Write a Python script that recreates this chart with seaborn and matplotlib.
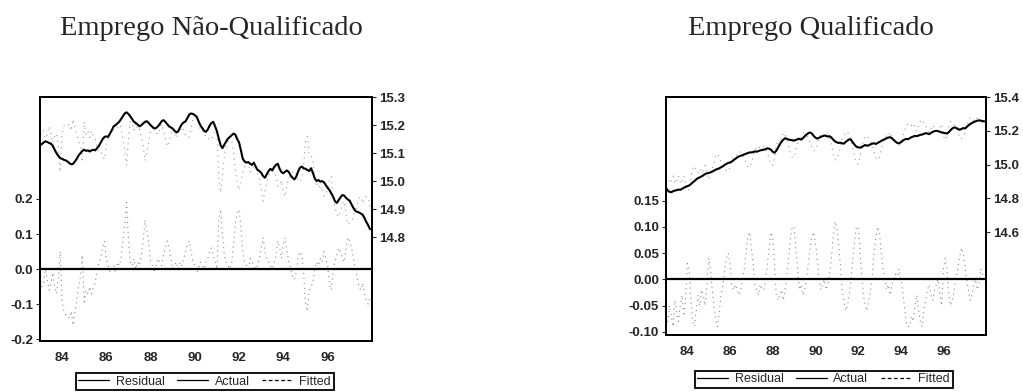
import numpy as np
import pandas as pd
import matplotlib
matplotlib.use("Agg")
import matplotlib.pyplot as plt
from matplotlib.lines import Line2D
import seaborn as sns

# monthly sample 1983:01 - 1997:12
years = list(range(1983, 1998))

# Emprego Nao-Qualificado (log level, right scale) and residual (left scale)
actual_nq = [
    15.128, 15.132, 15.138, 15.142, 15.140, 15.136, 15.134, 15.126, 15.112, 15.100, 15.090, 15.082,
    15.080, 15.076, 15.074, 15.070, 15.064, 15.060, 15.062, 15.070, 15.080, 15.092, 15.100, 15.108,
    15.112, 15.108, 15.110, 15.106, 15.110, 15.112, 15.110, 15.118, 15.126, 15.138, 15.150, 15.158,
    15.160, 15.158, 15.170, 15.182, 15.196, 15.200, 15.206, 15.212, 15.222, 15.232, 15.242, 15.246,
    15.240, 15.232, 15.222, 15.212, 15.208, 15.202, 15.196, 15.200, 15.206, 15.212, 15.214, 15.208,
    15.200, 15.194, 15.188, 15.190, 15.196, 15.204, 15.214, 15.218, 15.212, 15.204, 15.196, 15.192,
    15.188, 15.180, 15.174, 15.178, 15.192, 15.204, 15.210, 15.214, 15.226, 15.238, 15.242, 15.240,
    15.236, 15.230, 15.214, 15.200, 15.190, 15.180, 15.176, 15.184, 15.198, 15.208, 15.212, 15.196,
    15.178, 15.152, 15.128, 15.118, 15.130, 15.142, 15.152, 15.158, 15.164, 15.170, 15.166, 15.150,
    15.138, 15.110, 15.080, 15.070, 15.066, 15.068, 15.062, 15.058, 15.066, 15.052, 15.040, 15.036,
    15.030, 15.018, 15.012, 15.024, 15.036, 15.044, 15.038, 15.050, 15.058, 15.062, 15.044, 15.032,
    15.028, 15.034, 15.038, 15.032, 15.020, 15.012, 15.006, 15.016, 15.034, 15.048, 15.052, 15.046,
    15.044, 15.040, 15.036, 15.046, 15.030, 15.010, 15.000, 15.004, 14.998, 15.000, 14.996, 14.986,
    14.976, 14.968, 14.956, 14.944, 14.928, 14.922, 14.932, 14.942, 14.950, 14.948, 14.940, 14.934,
    14.930, 14.916, 14.904, 14.894, 14.890, 14.888, 14.884, 14.880, 14.868, 14.854, 14.842, 14.828,
]
resid_nq = [
    -0.02, -0.05, -0.04, 0.00, -0.03, -0.06, -0.04, -0.01, -0.05, -0.07, -0.03, 0.05,
    -0.09, -0.12, -0.13, -0.13, -0.14, -0.12, -0.16, -0.12, -0.09, -0.05, -0.02, 0.04,
    -0.10, -0.06, -0.07, -0.05, -0.07, -0.05, -0.04, 0.00, 0.02, 0.03, 0.06, 0.08,
    0.03, 0.01, -0.01, 0.00, 0.01, -0.01, 0.02, 0.01, 0.03, 0.08, 0.13, 0.19,
    0.09, 0.02, 0.01, 0.03, 0.00, 0.02, 0.01, 0.04, 0.08, 0.14, 0.11, 0.07,
    0.02, 0.01, -0.01, 0.01, 0.03, 0.02, 0.01, 0.04, 0.06, 0.08, 0.06, 0.03,
    0.00, 0.01, 0.02, 0.00, 0.02, 0.01, 0.03, 0.05, 0.07, 0.08, 0.05, 0.02,
    0.01, -0.01, 0.00, 0.02, 0.01, 0.00, 0.02, 0.03, 0.05, 0.06, 0.04, 0.02,
    0.00, 0.14, 0.17, 0.10, 0.04, 0.02, 0.01, 0.00, 0.02, 0.07, 0.13, 0.16,
    0.17, 0.12, 0.05, 0.02, 0.01, 0.00, 0.03, 0.02, 0.01, 0.00, 0.01, 0.03,
    0.06, 0.09, 0.05, 0.03, 0.02, 0.01, 0.00, 0.02, 0.04, 0.08, 0.06, 0.03,
    0.07, 0.09, 0.05, 0.02, 0.00, -0.02, -0.03, -0.01, 0.03, 0.05, 0.04, -0.01,
    -0.10, -0.12, -0.06, -0.05, -0.04, 0.00, 0.02, 0.01, 0.03, 0.02, 0.05, 0.03,
    0.01, -0.04, -0.06, 0.00, 0.02, 0.04, 0.06, 0.05, 0.03, 0.02, 0.06, 0.09,
    0.08, 0.06, 0.03, 0.00, -0.02, -0.05, -0.06, -0.04, -0.07, -0.09, -0.10, -0.08,
]

# Emprego Qualificado
actual_q = [
    14.862, 14.846, 14.838, 14.836, 14.842, 14.846, 14.848, 14.852, 14.850, 14.856, 14.862, 14.868,
    14.872, 14.876, 14.884, 14.894, 14.902, 14.912, 14.920, 14.924, 14.930, 14.936, 14.944, 14.948,
    14.950, 14.954, 14.958, 14.964, 14.970, 14.974, 14.978, 14.984, 14.990, 14.998, 15.004, 15.010,
    15.012, 15.018, 15.026, 15.034, 15.042, 15.048, 15.052, 15.056, 15.060, 15.064, 15.068, 15.072,
    15.072, 15.074, 15.078, 15.076, 15.080, 15.084, 15.086, 15.088, 15.092, 15.096, 15.094, 15.088,
    15.076, 15.070, 15.082, 15.100, 15.120, 15.136, 15.148, 15.156, 15.152, 15.148, 15.146, 15.144,
    15.142, 15.146, 15.150, 15.152, 15.148, 15.156, 15.168, 15.178, 15.186, 15.190, 15.184, 15.170,
    15.160, 15.154, 15.158, 15.164, 15.168, 15.172, 15.170, 15.166, 15.168, 15.160, 15.148, 15.138,
    15.132, 15.128, 15.130, 15.126, 15.124, 15.134, 15.142, 15.150, 15.148, 15.132, 15.118, 15.106,
    15.102, 15.100, 15.104, 15.110, 15.116, 15.112, 15.114, 15.120, 15.124, 15.126, 15.122, 15.128,
    15.134, 15.140, 15.146, 15.150, 15.156, 15.160, 15.162, 15.156, 15.146, 15.136, 15.128, 15.126,
    15.132, 15.140, 15.148, 15.152, 15.150, 15.156, 15.162, 15.166, 15.170, 15.168, 15.172, 15.176,
    15.178, 15.182, 15.186, 15.184, 15.180, 15.188, 15.194, 15.198, 15.200, 15.198, 15.194, 15.190,
    15.188, 15.186, 15.184, 15.192, 15.204, 15.214, 15.220, 15.218, 15.212, 15.206, 15.210, 15.216,
    15.214, 15.222, 15.232, 15.240, 15.246, 15.252, 15.256, 15.260, 15.262, 15.260, 15.258, 15.256,
]
resid_q = [
    -0.06, -0.08, -0.05, -0.07, -0.09, -0.04, -0.06, -0.08, -0.05, -0.03, -0.07, -0.04,
    0.03, 0.02, -0.04, -0.08, -0.09, -0.06, -0.03, -0.05, -0.02, -0.03, -0.05, -0.01,
    0.04, 0.02, -0.02, -0.05, -0.08, -0.09, -0.06, -0.03, -0.01, 0.02, 0.04, 0.05,
    0.03, -0.01, -0.02, -0.01, -0.02, -0.03, -0.02, 0.00, 0.02, 0.05, 0.08, 0.09,
    0.06, 0.03, -0.01, -0.02, -0.03, -0.01, -0.02, -0.02, 0.00, 0.03, 0.06, 0.09,
    0.08, 0.03, -0.03, -0.04, -0.03, -0.02, -0.04, -0.02, 0.01, 0.04, 0.08, 0.10,
    0.10, 0.06, 0.02, -0.02, -0.01, -0.03, -0.02, 0.00, 0.03, 0.06, 0.08, 0.09,
    0.07, 0.04, 0.00, -0.02, -0.01, 0.00, -0.02, -0.01, 0.01, 0.04, 0.08, 0.11,
    0.10, 0.07, 0.03, -0.02, -0.04, -0.06, -0.05, -0.03, 0.00, 0.04, 0.07, 0.10,
    0.10, 0.06, 0.01, -0.03, -0.05, -0.06, -0.04, -0.02, 0.01, 0.05, 0.08, 0.10,
    0.09, 0.05, 0.02, 0.00, -0.02, -0.01, -0.03, -0.01, 0.00, 0.01, 0.00, 0.02,
    0.00, -0.02, -0.05, -0.08, -0.09, -0.09, -0.07, -0.08, -0.05, -0.03, -0.06, -0.08,
    -0.09, -0.06, -0.04, -0.02, -0.01, -0.03, -0.04, -0.02, -0.01, 0.00, -0.03, -0.05,
    0.02, 0.04, 0.02, -0.03, -0.05, -0.04, -0.02, 0.00, 0.02, 0.04, 0.06, 0.05,
    0.03, 0.00, -0.02, -0.04, -0.03, -0.01, 0.00, -0.02, -0.01, 0.02, 0.01, 0.00,
]

tick_years = [1984, 1986, 1988, 1990, 1992, 1994, 1996]
tick_labels = ["84", "86", "88", "90", "92", "94", "96"]

sns.set_style("white")
plt.rcParams["font.family"] = ["Liberation Sans", "DejaVu Sans"]

t = [y + m / 12 for y in years for m in range(12)]


def panel(fig, rect, actual, resid, title, title_x, lres, rres, lticks, rticks, lfmt, leg_xy):
    df = pd.DataFrame({"t": t, "Actual": actual, "Residual": resid})
    df["Fitted"] = df["Actual"] - df["Residual"]

    ax = fig.add_axes(rect)
    axr = ax.twinx()
    sns.lineplot(data=df, x="t", y="Residual", ax=ax, color="#8c8c8c",
                 linewidth=0.8, linestyle=(0, (1, 3.5)))
    ax.axhline(0, color="black", linewidth=1.6)
    sns.lineplot(data=df, x="t", y="Fitted", ax=axr, color="#9a9a9a",
                 linewidth=0.8, linestyle=(0, (1, 4)))
    sns.lineplot(data=df, x="t", y="Actual", ax=axr, color="black", linewidth=1.5)

    ax.set_xlim(1983, 1998)
    ax.set_ylim(*lres)
    axr.set_ylim(*rres)
    ax.set_yticks(lticks)
    ax.set_yticklabels([lfmt.format(v) for v in lticks])
    axr.set_yticks(rticks)
    axr.set_yticklabels(["%.1f" % v for v in rticks])
    ax.set_xticks(tick_years)
    ax.set_xticklabels(tick_labels)
    for a in (ax, axr):
        a.set_xlabel("")
        a.set_ylabel("")
        for s in a.spines.values():
            s.set_linewidth(1.4)
            s.set_color("black")
        a.tick_params(length=3, width=0.8, labelsize=9.5, pad=2)
        for lab in a.get_xticklabels() + a.get_yticklabels():
            lab.set_fontweight("bold")
    ax.tick_params(axis="x", pad=5)

    fig.text(title_x, 0.911, title, ha="center", va="baseline",
             fontsize=20.5, family=["Liberation Serif", "DejaVu Serif"])

    handles = [Line2D([], [], color="black", lw=0.9),
               Line2D([], [], color="black", lw=0.9),
               Line2D([], [], color="black", lw=0.9, ls=(0, (3, 2)))]
    leg = fig.legend(handles, ["Residual", "Actual", "Fitted"], loc="center",
                     bbox_to_anchor=leg_xy, ncol=3,
                     frameon=True, fancybox=False, fontsize=9, handlelength=2.5,
                     columnspacing=1.0, handletextpad=0.5, borderpad=0.2,
                     edgecolor="black", framealpha=1)
    leg.get_frame().set_linewidth(1.3)


fig = plt.figure(figsize=(10.23, 3.92), dpi=100)
panel(fig, [0.039, 0.130, 0.3245, 0.622], actual_nq, resid_nq,
      "Emprego Não-Qualificado", 0.207, (-0.205, 0.49), (14.428, 15.295),
      [-0.2, -0.1, 0.0, 0.1, 0.2], [14.8, 14.9, 15.0, 15.1, 15.2, 15.3], "{:.1f}",
      (0.200, 0.026))
panel(fig, [0.651, 0.1454, 0.313, 0.607], actual_q, resid_q,
      "Emprego Qualificado", 0.793, (-0.106, 0.347), (13.99, 15.40),
      [-0.10, -0.05, 0.0, 0.05, 0.10, 0.15], [14.6, 14.8, 15.0, 15.2, 15.4], "{:.2f}",
      (0.805, 0.033))

fig.savefig("out.png", dpi=100)
